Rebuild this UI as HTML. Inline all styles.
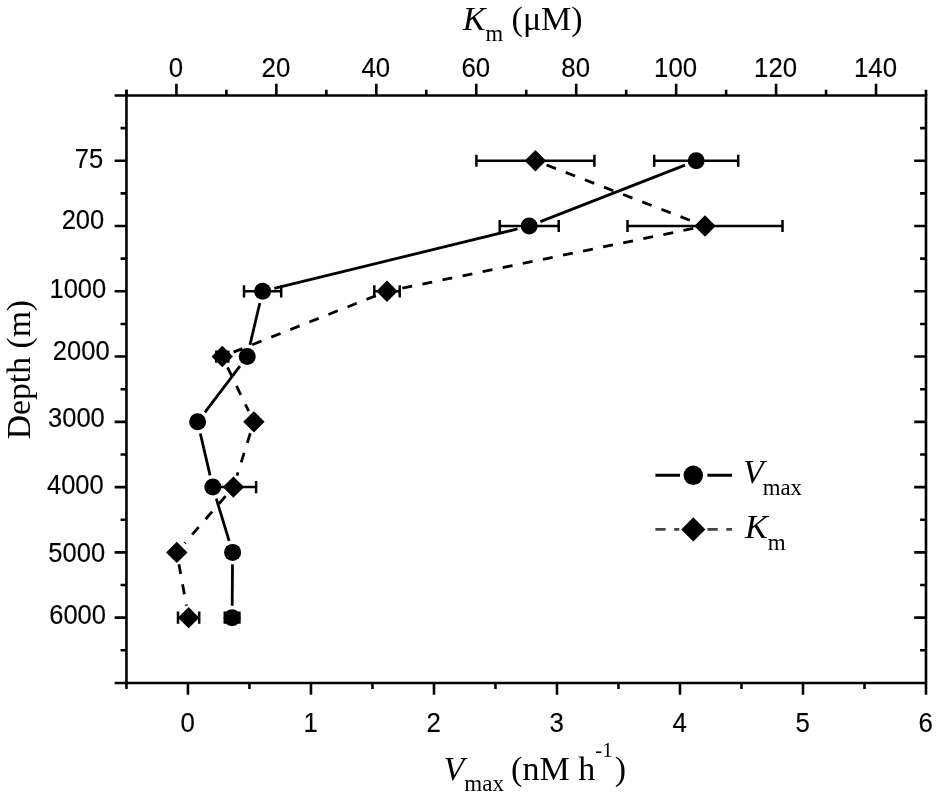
<!DOCTYPE html>
<html lang="en"><head><meta charset="utf-8"><title>Vmax and Km depth profile</title>
<style>html,body{margin:0;padding:0;background:#fff}svg{display:block}.s{font-family:"Liberation Serif","DejaVu Serif",serif}.a{font-family:"Liberation Sans","DejaVu Sans",sans-serif;font-size:28.2px}</style></head><body>
<svg width="938" height="799" viewBox="0 0 938 799">
<rect width="938" height="799" fill="#fff"/>
<g stroke="#000" stroke-width="2.6" fill="none" stroke-linecap="butt">
<path d="M126.45 89.65V684.35"/>
<path d="M926.0 94.25V694.85"/>
<path d="M114.65 95.55H926.0"/>
<path d="M114.65 683.05H926.0"/>
<path d="M126.45 683.05v5.9M187.95 683.05v11.8M249.46 683.05v5.9M310.96 683.05v11.8M372.47 683.05v5.9M433.97 683.05v11.8M495.47 683.05v5.9M556.98 683.05v11.8M618.48 683.05v5.9M679.98 683.05v11.8M741.49 683.05v5.9M802.99 683.05v11.8M864.50 683.05v5.9"/>
<path d="M126.45 95.55v-5.9M176.42 95.55v-11.8M226.39 95.55v-5.9M276.37 95.55v-11.8M326.34 95.55v-5.9M376.31 95.55v-11.8M426.28 95.55v-5.9M476.25 95.55v-11.8M526.23 95.55v-5.9M576.20 95.55v-11.8M626.17 95.55v-5.9M676.14 95.55v-11.8M726.11 95.55v-5.9M776.08 95.55v-11.8M826.06 95.55v-5.9M876.03 95.55v-11.8M926.00 95.55v-5.9"/>
<path d="M126.45 128.11h-5.9M926.0 128.11h-5.9M126.45 160.75h-11.8M926.0 160.75h-11.8M126.45 193.39h-5.9M926.0 193.39h-5.9M126.45 226.02h-11.8M926.0 226.02h-11.8M126.45 258.66h-5.9M926.0 258.66h-5.9M126.45 291.29h-11.8M926.0 291.29h-11.8M126.45 323.93h-5.9M926.0 323.93h-5.9M126.45 356.56h-11.8M926.0 356.56h-11.8M126.45 389.20h-5.9M926.0 389.20h-5.9M126.45 421.84h-11.8M926.0 421.84h-11.8M126.45 454.47h-5.9M926.0 454.47h-5.9M126.45 487.11h-11.8M926.0 487.11h-11.8M126.45 519.74h-5.9M926.0 519.74h-5.9M126.45 552.38h-11.8M926.0 552.38h-11.8M126.45 585.01h-5.9M926.0 585.01h-5.9M126.45 617.65h-11.8M926.0 617.65h-11.8M126.45 650.29h-5.9M926.0 650.29h-5.9"/>
</g>
<g class="a" fill="#000" stroke="#000" stroke-width="0.15" text-anchor="middle">
<text transform="translate(175.9 77.1) scale(0.915 1)">0</text>
<text transform="translate(275.9 77.1) scale(0.915 1)">20</text>
<text transform="translate(375.8 77.1) scale(0.915 1)">40</text>
<text transform="translate(475.8 77.1) scale(0.915 1)">60</text>
<text transform="translate(575.7 77.1) scale(0.915 1)">80</text>
<text transform="translate(675.6 77.1) scale(0.915 1)">100</text>
<text transform="translate(775.6 77.1) scale(0.915 1)">120</text>
<text transform="translate(875.5 77.1) scale(0.915 1)">140</text>
<text transform="translate(187.7 731.8) scale(0.915 1)">0</text>
<text transform="translate(310.7 731.8) scale(0.915 1)">1</text>
<text transform="translate(433.7 731.8) scale(0.915 1)">2</text>
<text transform="translate(556.7 731.8) scale(0.915 1)">3</text>
<text transform="translate(679.7 731.8) scale(0.915 1)">4</text>
<text transform="translate(802.7 731.8) scale(0.915 1)">5</text>
<text transform="translate(925.7 731.8) scale(0.915 1)">6</text>
</g>
<g class="a" fill="#000" stroke="#000" stroke-width="0.15" text-anchor="end">
<text transform="translate(103.2 168.2) scale(0.905 1)">75</text>
<text transform="translate(104.2 228.5) scale(0.905 1)">200</text>
<text transform="translate(106.2 298.2) scale(0.905 1)">1000</text>
<text transform="translate(109.6 359.6) scale(0.905 1)">2000</text>
<text transform="translate(104.8 426.5) scale(0.905 1)">3000</text>
<text transform="translate(103.7 494.4) scale(0.905 1)">4000</text>
<text transform="translate(105.1 561.6) scale(0.905 1)">5000</text>
<text transform="translate(106.0 623.5) scale(0.905 1)">6000</text>
</g>
<g class="s" fill="#000" font-size="34px">
<text x="462.8" y="30.2"><tspan font-style="italic">K</tspan><tspan font-size="22.6px" dy="10.6">m</tspan><tspan dy="-10.6"> (μM)</tspan></text>
<text x="443.5" y="780.2"><tspan font-style="italic">V</tspan><tspan font-size="23px" dy="10.8">max</tspan><tspan dy="-10.8" dx="-1.3"> (nM h</tspan><tspan font-size="21px" dy="-23" dx="0.2">-1</tspan><tspan dy="23" dx="1.8">)</tspan></text>
<text transform="translate(29.8 439.3) rotate(-90)" font-size="33.7px">Depth (m)</text>
</g>
<g stroke="#000" stroke-width="2.5" fill="none">
<path d="M654.20 160.75H738.20M654.20 154.65v12.2M738.20 154.65v12.2M499.70 226.02H558.70M499.70 219.92v12.2M558.70 219.92v12.2M244.00 291.29H281.20M244.00 285.19v12.2M281.20 285.19v12.2M243.20 356.56H251.20M243.20 350.46v12.2M251.20 350.46v12.2M193.60 421.84H201.60M193.60 415.74v12.2M201.60 415.74v12.2M208.80 487.11H216.80M208.80 481.01v12.2M216.80 481.01v12.2M227.60 552.38H237.60M227.60 546.28v12.2M237.60 546.28v12.2M224.80 617.65H239.40M224.80 611.55v12.2M239.40 611.55v12.2M476.40 160.75H594.40M476.40 154.65v12.2M594.40 154.65v12.2M627.50 226.02H782.50M627.50 219.92v12.2M782.50 219.92v12.2M374.30 291.29H399.70M374.30 285.19v12.2M399.70 285.19v12.2M216.30 356.56H228.30M216.30 350.46v12.2M228.30 350.46v12.2M250.90 421.84H256.90M250.90 415.74v12.2M256.90 415.74v12.2M210.70 487.11H256.10M210.70 481.01v12.2M256.10 481.01v12.2M173.80 552.38H179.80M173.80 546.28v12.2M179.80 546.28v12.2M178.00 617.65H199.20M178.00 611.55v12.2M199.20 611.55v12.2"/>
</g>
<g stroke="#000" stroke-width="2.8" fill="none"><path d="M685.02 165.12L540.38 221.65"/><path d="M517.54 228.88L274.26 288.44"/><path d="M259.84 302.97L249.96 344.88"/><path d="M239.94 366.12L204.86 412.28"/><path d="M200.32 433.52L210.08 475.42"/><path d="M216.28 498.59L229.12 540.90"/><path d="M232.51 564.38L232.19 605.65"/></g>
<g stroke="#000" stroke-width="2.8" fill="none" stroke-dasharray="10 10.5"><path d="M546.60 165.06L693.80 221.71"/><path d="M693.25 228.43L398.75 288.88"/><path d="M375.84 295.71L233.46 352.14"/><path d="M227.53 367.37L248.67 411.03"/><path d="M250.30 433.28L237.00 475.66"/><path d="M225.54 496.17L184.66 543.31"/><path d="M178.93 564.19L186.47 605.84"/></g>
<g fill="#000">
<circle cx="696.20" cy="160.75" r="8.5"/>
<circle cx="529.20" cy="226.02" r="8.5"/>
<circle cx="262.60" cy="291.29" r="8.5"/>
<circle cx="247.20" cy="356.56" r="8.5"/>
<circle cx="197.60" cy="421.84" r="8.5"/>
<circle cx="212.80" cy="487.11" r="8.5"/>
<circle cx="232.60" cy="552.38" r="8.5"/>
<circle cx="232.10" cy="617.65" r="8.5"/>
<path d="M524.70 160.75L535.40 150.05L546.10 160.75L535.40 171.45Z"/>
<path d="M694.30 226.02L705.00 215.32L715.70 226.02L705.00 236.72Z"/>
<path d="M376.30 291.29L387.00 280.59L397.70 291.29L387.00 301.99Z"/>
<path d="M211.60 356.56L222.30 345.86L233.00 356.56L222.30 367.26Z"/>
<path d="M243.20 421.84L253.90 411.14L264.60 421.84L253.90 432.54Z"/>
<path d="M222.70 487.11L233.40 476.41L244.10 487.11L233.40 497.81Z"/>
<path d="M166.10 552.38L176.80 541.68L187.50 552.38L176.80 563.08Z"/>
<path d="M177.90 617.65L188.60 606.95L199.30 617.65L188.60 628.35Z"/>
</g>
<g stroke="#000" stroke-width="2.9" fill="none"><path d="M655.4 475.3H680.0M707.4 475.3H732.1"/></g>
<g stroke="#444" stroke-width="2.7" fill="none"><path d="M655.4 529.4H665.6M674.2 529.4H679.3M707.5 529.4H717.7M726.3 529.4H732.1"/></g>
<circle cx="693.3" cy="475.3" r="9.75" fill="#000"/>
<path d="M681.1999999999999 529.4L693.3 517.3L705.4 529.4L693.3 541.5Z" fill="#000"/>
<g class="s" fill="#000" font-size="34px">
<text x="743.1" y="483.2"><tspan font-style="italic">V</tspan><tspan font-size="22.8px" dy="11.4" dx="-1.2">max</tspan></text>
<text x="745.0" y="538.3"><tspan font-style="italic">K</tspan><tspan font-size="23px" dy="11.2">m</tspan></text>
</g>
</svg></body></html>
